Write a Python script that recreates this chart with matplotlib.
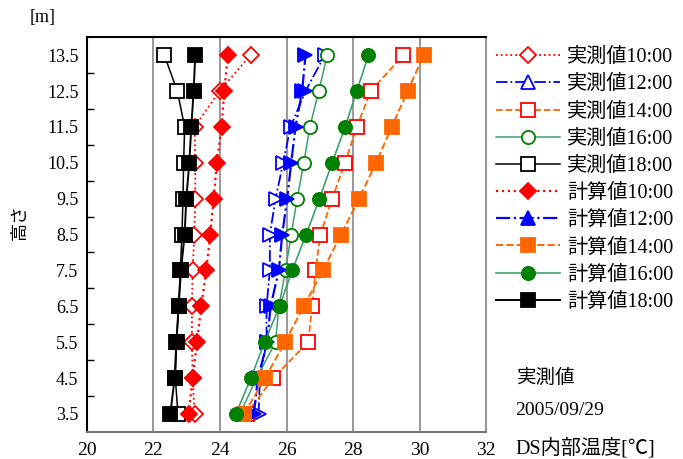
import matplotlib.pyplot as plt
from matplotlib.lines import Line2D

plt.rcParams['font.family'] = ['Liberation Serif', 'Noto Sans CJK JP']

heights = [3.5, 4.5, 5.5, 6.5, 7.5, 8.5, 9.5, 10.5, 11.5, 12.5, 13.5]

# measured (実測値) and calculated (計算値) temperatures, bottom to top
meas_10 = [23.24, 23.18, 23.16, 23.16, 23.18, 23.23, 23.26, 23.26, 23.24, 23.99, 24.92]
meas_12 = [25.16, 25.20, 25.40, 25.40, 25.50, 25.50, 25.67, 25.90, 26.12, 26.57, 27.15]
meas_14 = [24.80, 25.60, 26.65, 26.77, 26.87, 27.02, 27.37, 27.76, 28.11, 28.53, 29.51]
meas_16 = [24.60, 25.10, 25.67, 25.77, 25.97, 26.14, 26.32, 26.52, 26.70, 26.97, 27.22]
meas_18 = [22.74, 22.66, 22.70, 22.76, 22.81, 22.86, 22.89, 22.91, 22.94, 22.72, 22.33]

calc_10 = [23.06, 23.18, 23.31, 23.44, 23.59, 23.71, 23.81, 23.91, 24.05, 24.13, 24.24]
calc_12 = [25.02, 25.14, 25.42, 25.52, 25.77, 25.87, 26.02, 26.14, 26.27, 26.47, 26.57]
calc_14 = [24.72, 25.36, 25.95, 26.52, 27.09, 27.64, 28.18, 28.69, 29.16, 29.64, 30.12]
calc_16 = [24.48, 24.93, 25.34, 25.79, 26.17, 26.59, 26.99, 27.37, 27.76, 28.11, 28.46]
calc_18 = [22.51, 22.64, 22.69, 22.76, 22.83, 22.94, 22.99, 23.08, 23.14, 23.21, 23.26]

x_ticks = [20, 22, 24, 26, 28, 30, 32]

RED, BLUE, ORANGE, GREEN, GLINE = '#ff0000', '#0000ff', '#ff6600', '#008000', '#3f9f70'

# (label, data, line color, linestyle, lw, marker, legend marker, face, edge)
series = [
    ('実測値10:00', meas_10, RED, ':', 1.3, 'D', 'D', 'white', RED),
    ('実測値12:00', meas_12, BLUE, '-.', 1.3, '>', '^', 'white', BLUE),
    ('実測値14:00', meas_14, ORANGE, '--', 1.3, 's', 's', 'white', RED),
    ('実測値16:00', meas_16, GLINE, '-', 1.1, 'o', 'o', 'white', GREEN),
    ('実測値18:00', meas_18, 'black', '-', 1.1, 's', 's', 'white', 'black'),
    ('計算値10:00', calc_10, RED, ':', 1.6, 'D', 'D', RED, RED),
    ('計算値12:00', calc_12, BLUE, '-.', 1.6, '>', '^', BLUE, BLUE),
    ('計算値14:00', calc_14, ORANGE, '--', 1.4, 's', 's', ORANGE, ORANGE),
    ('計算値16:00', calc_16, GLINE, '-', 1.2, 'o', 'o', GREEN, GREEN),
    ('計算値18:00', calc_18, 'black', '-', 1.4, 's', 's', 'black', 'black'),
]

fig = plt.figure(figsize=(6.83, 4.59), dpi=100)
ax = fig.add_axes([0.127, 0.059, 0.585, 0.860])

handles = []
for label, data, lc, ls, lw, mk, lmk, fc, ec in series:
    ms = 8.5 if mk == 'D' else 9.5
    ax.plot(data, heights, color=lc, linestyle=ls, linewidth=lw,
            marker=mk, markersize=ms, markerfacecolor=fc, markeredgecolor=ec,
            markeredgewidth=1.3)
    handles.append(Line2D([], [], color=lc, linestyle=ls, linewidth=lw,
                          marker=lmk, markersize=ms, markerfacecolor=fc,
                          markeredgecolor=ec, markeredgewidth=1.3, label=label))

ax.set_xlim(20, 32)
ax.set_ylim(3, 14)
ax.set_xticks(x_ticks)
ax.set_xticklabels([str(t) for t in x_ticks], fontsize=14)
ax.tick_params(axis='x', length=0, pad=7)

# tick marks on integers, labels on the half values
ax.set_yticks(range(4, 14))
ax.set_yticklabels([])
ax.set_yticks(heights, minor=True)
ax.set_yticklabels([f'{h}' for h in heights], minor=True, fontsize=13)
ax.tick_params(axis='y', which='major', direction='in', length=5, width=1)
ax.tick_params(axis='y', which='minor', length=0, pad=6)

for v in [22, 24, 26, 28, 30]:
    ax.axvline(v, color='#999999', linewidth=1.4, zorder=0)

ax.spines['top'].set_linewidth(1.5)
ax.spines['left'].set_linewidth(1.5)
ax.spines['right'].set_color('#999999')
ax.spines['right'].set_linewidth(1.5)
ax.spines['bottom'].set_color('#777777')
ax.spines['bottom'].set_linewidth(1.5)

fig.legend(handles=handles, loc='upper left', bbox_to_anchor=(0.714, 0.913),
           frameon=False, fontsize=14.5, handlelength=3.2, labelspacing=0.4,
           handletextpad=0.35, borderaxespad=0)

fig.text(0.03, 0.517, '高さ', rotation=90, fontsize=13, ha='center', va='center')
fig.text(0.063, 0.962, '[m]', fontsize=13, ha='center', va='center')
fig.text(0.757, 0.176, '実測値', fontsize=14, ha='left', va='center')
fig.text(0.754, 0.105, '2005/09/29', fontsize=14, ha='left', va='center')
fig.text(0.754, 0.024, 'DS内部温度[℃]', fontsize=14.5, ha='left', va='center')

fig.savefig('out.png', dpi=100)
